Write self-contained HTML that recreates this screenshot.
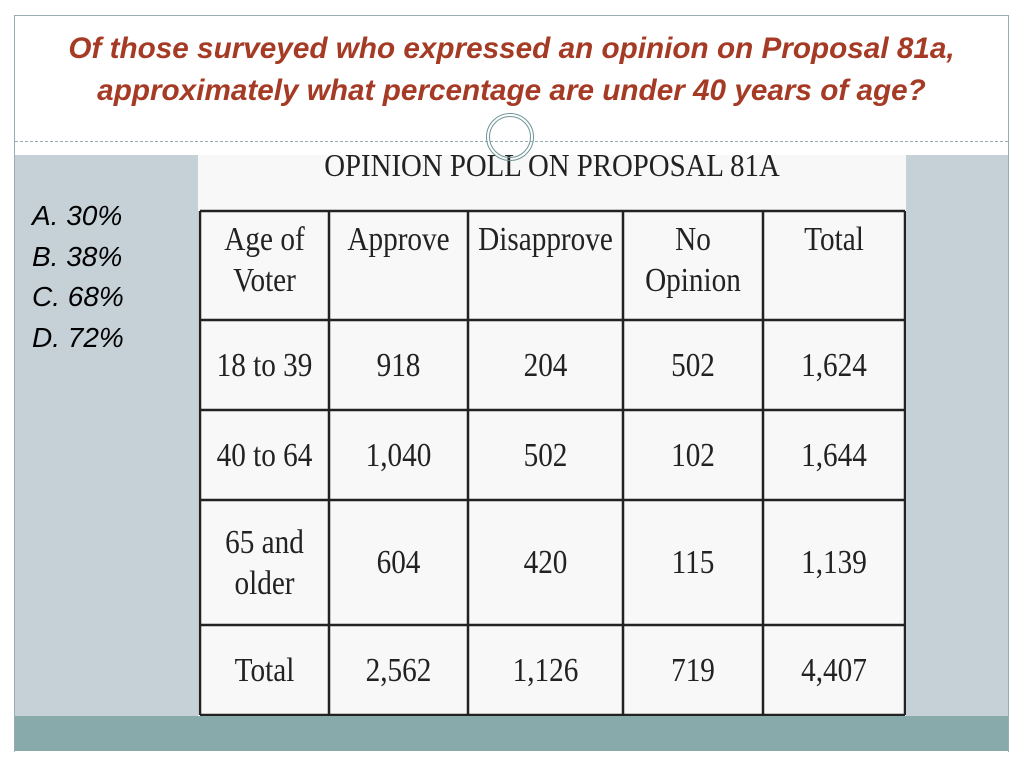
<!DOCTYPE html>
<html><head><meta charset="utf-8"><style>
body{margin:0;width:1024px;height:767px;background:#fff;position:relative;overflow:hidden;font-family:"Liberation Serif",serif}
.abs{position:absolute}
.t{font-family:"Liberation Sans",sans-serif;font-weight:bold;font-style:italic;color:#a53a25;font-size:30px;left:15px;width:993px;text-align:center;line-height:42px;transform:scaleX(0.99)}
.ans{font-family:"Liberation Sans",sans-serif;font-style:italic;font-size:28px;color:#000;left:32px;line-height:40.7px}
.cell{position:absolute;display:flex;align-items:center;justify-content:center;text-align:center;font-size:34px;color:#222;line-height:41px;transform:scaleX(0.86)}
</style></head><body>
<div class="abs" style="left:14px;top:15px;width:993px;height:736px;border-left:1px solid #9aacb3;border-right:1px solid #9aacb3;border-top:1px solid #9aacb3"></div>
<div class="abs" style="left:15px;top:141px;width:993px;border-top:1px dashed #9aacb3"></div>
<div class="abs t" style="top:28px">Of those surveyed who expressed an opinion on Proposal 81a,<br>approximately what percentage are under 40 years of age?</div>
<div class="abs" style="left:15px;top:155px;width:993px;height:561px;background:#c5d1d7"></div>
<div class="abs" style="left:15px;top:716px;width:993px;height:35px;background:#89aaab"></div>
<div class="abs ans" style="top:196px">A. 30%<br>B. 38%<br>C. 68%<br>D. 72%</div>
<div class="abs" style="left:198px;top:155px;width:708px;height:561px;background:#f8f8f8">
<div class="abs" style="left:0;top:-12px;width:708px;text-align:center;font-size:32px;color:#222;transform:scaleX(0.9);line-height:44px">OPINION POLL ON PROPOSAL 81A</div>
<svg id="grid" class="abs" style="left:0;top:0" width="708" height="561"></svg>
<div id="cells"></div>
</div>
<div class="abs" style="left:486px;top:113px;width:40px;height:40px;border-radius:50%;border:4px double #6e9496;background:transparent"></div>
<script>
const headers=["Age of<br>Voter","Approve","Disapprove","No<br>Opinion","Total"];
const rowsData=[["18 to 39","918","204","502","1,624"],["40 to 64","1,040","502","102","1,644"],["65 and<br>older","604","420","115","1,139"],["Total","2,562","1,126","719","4,407"]];
const colX=[2,131,270,425,565,707];
const rowY=[56,165,255,345,470,560];
const svg=document.getElementById('grid');
let s='';
colX.forEach(x=>{s+=`<line x1="${x}" y1="${rowY[0]}" x2="${x}" y2="${rowY[5]}" stroke="#222" stroke-width="2.5"/>`;});
rowY.forEach(y=>{s+=`<line x1="${colX[0]}" y1="${y}" x2="${colX[5]}" y2="${y}" stroke="#222" stroke-width="2.5"/>`;});
svg.innerHTML=s;
const c=document.getElementById('cells');
function cell(txt,r,ci,top){const d=document.createElement('div');d.className='cell';


d.style.left=colX[ci]+'px';d.style.width=(colX[ci+1]-colX[ci])+'px';
if(top){d.style.top=(rowY[0]+8)+'px';d.style.alignItems='flex-start';d.style.height=(rowY[1]-rowY[0])+'px';}
else{d.style.top=rowY[r]+'px';d.style.height=(rowY[r+1]-rowY[r])+'px';}
d.innerHTML=txt;c.appendChild(d);}
headers.forEach((h,i)=>cell(h,0,i,true));
rowsData.forEach((row,r)=>row.forEach((v,i)=>cell(v,r+1,i,false)));
</script>
</body></html>
